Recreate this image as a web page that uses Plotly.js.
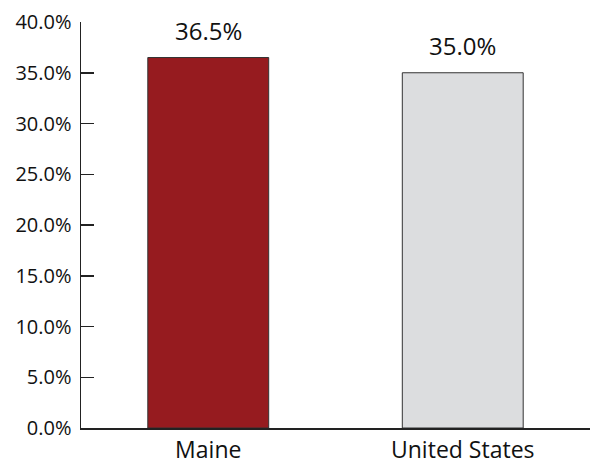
<!DOCTYPE html>
<html>
<head>
<meta charset="utf-8">
<script src="https://cdn.plot.ly/plotly-3.0.1.min.js"></script>
<style>html,body{margin:0;padding:0;background:#fff;}#chart{width:590px;height:466px;}</style>
</head>
<body>
<div id="chart"></div>
<script>
const categories = ["Maine", "United States"];
const values = [36.5, 35.0];
const barColors = ["#961B1F", "#DCDDDF"];
const tickVals = [0, 5, 10, 15, 20, 25, 30, 35, 40];
const tickText = ["0.0%", "5.0%", "10.0%", "15.0%", "20.0%", "25.0%", "30.0%", "35.0%", "40.0%"];

const FONT = "Open Sans, Noto Sans, sans-serif";

const trace = {
  type: "bar",
  x: categories,
  y: values,
  width: 0.475,
  marker: { color: barColors, line: { color: "#333333", width: 1 } },
  hoverinfo: "none"
};

const annotations = categories.map((c, i) => ({
  x: c, y: values[i], xref: "x", yref: "y",
  text: values[i].toFixed(1) + "%",
  showarrow: false, yanchor: "bottom", yshift: 9,
  font: { family: FONT, size: 24, color: "#111" }
}));

const layout = {
  width: 590, height: 466,
  margin: { l: 81, r: 0, t: 22, b: 38 },
  paper_bgcolor: "#fff", plot_bgcolor: "#fff",
  showlegend: false,
  font: { family: FONT, color: "#111" },
  annotations: annotations,
  xaxis: {
    showline: true, linecolor: "#222", linewidth: 1.5,
    ticks: "", tickfont: { size: 23, color: "#111" },
    ticklabelstandoff: 1,
    showgrid: false, zeroline: false, fixedrange: true
  },
  yaxis: {
    range: [0, 40],
    tickvals: tickVals, ticktext: tickText,
    showline: true, linecolor: "#222", linewidth: 1.5,
    ticks: "inside", ticklen: 13, tickwidth: 1.5, tickcolor: "#222",
    tickfont: { size: 20, color: "#111" },
    ticklabelstandoff: 4,
    showgrid: false, zeroline: false, fixedrange: true
  }
};

Plotly.newPlot("chart", [trace], layout, { staticPlot: true, displayModeBar: false });
</script>
</body>
</html>
